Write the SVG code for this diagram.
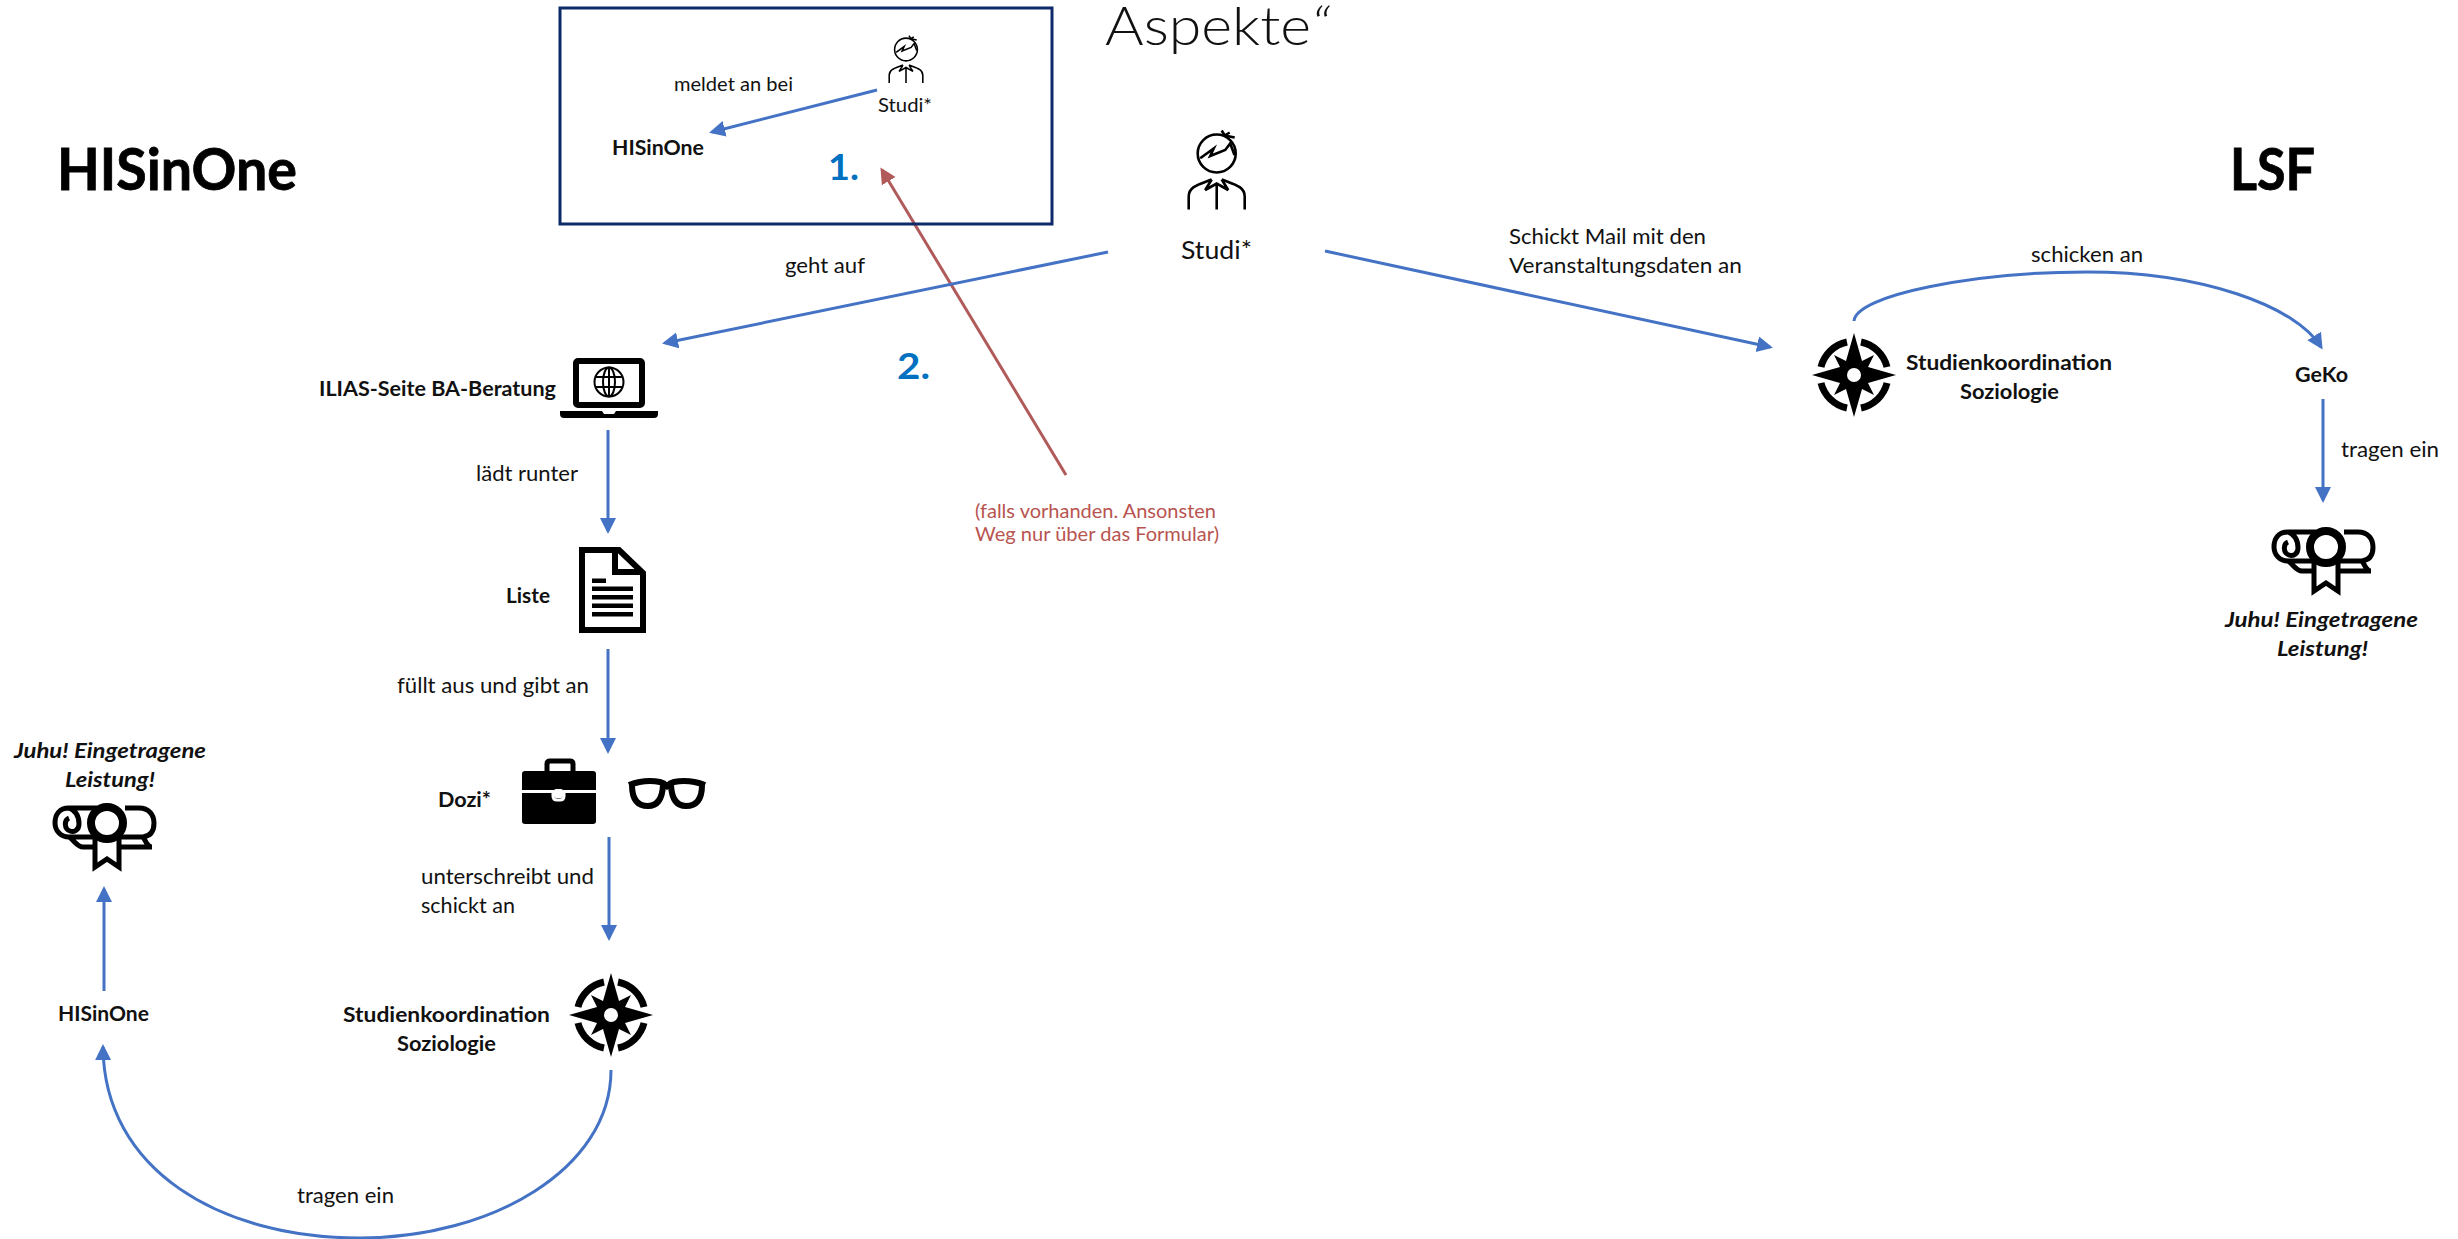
<svg xmlns="http://www.w3.org/2000/svg" xmlns:xlink="http://www.w3.org/1999/xlink" width="2458" height="1239" viewBox="0 0 2458 1239">
<style>
text{font-family:Lato,"Liberation Sans",sans-serif;fill:#111;font-size:21px}
.b{font-weight:700}
.i{font-weight:700;font-style:italic}
.h{font-weight:700;font-size:57px;fill:#000;stroke:#000;stroke-width:.8}
.n{font-weight:700;font-size:37px;fill:#0070c0}
.r{fill:#b85450;font-size:19px}
.c{fill:none;stroke:#4472c4;stroke-width:3}
.cr{fill:none;stroke:#b05a5a;stroke-width:3}
.ps{fill:none;stroke:#000;stroke-width:2.600}
</style>
<defs>
<marker id="ab" markerUnits="userSpaceOnUse" markerWidth="18" markerHeight="18" refX="13" refY="8" orient="auto"><path d="M0,0L16,8L0,16Z" fill="#4472c4"/></marker>
<marker id="ar" markerUnits="userSpaceOnUse" markerWidth="18" markerHeight="18" refX="13" refY="8" orient="auto"><path d="M0,0L16,8L0,16Z" fill="#b05a5a"/></marker>
<g id="person">
<circle class="ps" r="19"/>
<path class="ps" d="M-16.500,4.800L-3,-5L-6.500,2.500L8.500,-3.500L13.500,-10L17.800,1.500M5,-23L8,-18L18,-16M8,-18L13,-21"/>
<path class="ps" d="M-28,56V43C-28,33-18,31-5,26M28,56V43C28,33,18,31,5,26M-5,26L-11.500,36.500L0,30L11.500,36.500L5,26M0,30V56"/>
</g>
<g id="compass">
<path d="M0,-42L8,-14L20,-20L14,-8L42,0L14,8L20,20L8,14L0,42L-8,14L-20,20L-14,8L-42,0L-14,-8L-20,-20L-8,-14Z" fill="#000"/>
<circle r="7" fill="#fff"/>
<path d="M7,-33A34,34,0,0,1,33,-8M33,8A34,34,0,0,1,7,33M-7,33A34,34,0,0,1,-33,8M-33,-8A34,34,0,0,1,-7,-33" fill="none" stroke="#000" stroke-width="7"/>
</g>
<g id="diploma">
<path d="M-10,-15H-38C-48,-15-52,-8-52,0C-52,8-46,14-38,14H-14M14,14H36M18,-15H32C42,-15,47,-8,47,0C47,8,44,13,36,14C39,18,40,24,45,24M14,24H45M-38,14C-32,18-30,24-24,24H-14M-38,-15C-30,-12-28,-5-28,1C-28,6-32,10-37,8C-43,6-43,-3-38,-5" fill="none" stroke="#000" stroke-width="5"/>
<path d="M-12,14V44L0,36L12,44V14" fill="#fff" stroke="#000" stroke-width="5"/>
<circle r="16" fill="#fff" stroke="#000" stroke-width="8"/>
</g>
</defs>
<rect width="2458" height="1239" fill="#fff"/>

<g id="connectors">
<path class="c" marker-end="url(#ab)" d="M877,90L712,132"/>
<path class="cr" marker-end="url(#ar)" d="M1066,475L882,170"/>
<path class="c" marker-end="url(#ab)" d="M1108,252L665,343"/>
<path class="c" marker-end="url(#ab)" d="M1325,251L1770,347"/>
<path class="c" marker-end="url(#ab)" d="M1854,321C1856,295,1975,272,2087,272C2200,272,2295,305,2321,347"/>
<path class="c" marker-end="url(#ab)" d="M608,430V531"/>
<path class="c" marker-end="url(#ab)" d="M608,649V751"/>
<path class="c" marker-end="url(#ab)" d="M609,837V938"/>
<path class="c" marker-end="url(#ab)" d="M611,1070C611,1170,490,1238,360,1238C220,1238,104,1170,103,1047"/>
<path class="c" marker-end="url(#ab)" d="M104,991V889"/>
<path class="c" marker-end="url(#ab)" d="M2323,399V500"/>
</g>

<g id="title"><text x="1105" y="45" style="font-size:53px;font-weight:300" textLength="225" lengthAdjust="spacingAndGlyphs">Aspekte<tspan font-style="italic">“</tspan></text></g>
<g id="heading-hisinone"><text class="h" x="57" y="190" textLength="240" lengthAdjust="spacingAndGlyphs">HISinOne</text></g>
<g id="heading-lsf"><text class="h" x="2230" y="190" textLength="85" lengthAdjust="spacingAndGlyphs">LSF</text></g>

<g id="inset">
<rect x="560" y="8" width="492" height="216" fill="#fff" fill-opacity="0" stroke="#0f2a6b" stroke-width="3"/>
<use xlink:href="#person" href="#person" transform="translate(906,49.500) scale(.6)"/>
<text x="878" y="112" style="font-size:19px" textLength="54" lengthAdjust="spacingAndGlyphs">Studi*</text>
<text x="674" y="91" style="font-size:19px" textLength="119" lengthAdjust="spacingAndGlyphs">meldet an bei</text>
<text class="b" x="612" y="155" textLength="92" lengthAdjust="spacingAndGlyphs">HISinOne</text>
<text class="n" x="828" y="180" textLength="31" lengthAdjust="spacingAndGlyphs">1.</text>
</g>
<g id="label-2"><text class="n" x="897" y="379" textLength="33" lengthAdjust="spacingAndGlyphs">2.</text></g>
<g id="note">
<text class="r" x="975" y="518" textLength="241" lengthAdjust="spacingAndGlyphs">(falls vorhanden. Ansonsten</text>
<text class="r" x="975" y="541" textLength="244" lengthAdjust="spacingAndGlyphs">Weg nur über das Formular)</text>
</g>

<g id="studi">
<use xlink:href="#person" href="#person" transform="translate(1216.700,153.500)"/>
<text x="1181" y="259" style="font-size:25px" textLength="71" lengthAdjust="spacingAndGlyphs">Studi*</text>
</g>
<g id="edge-labels">
<text x="785" y="273" textLength="80" lengthAdjust="spacingAndGlyphs">geht auf</text>
<text x="1509" y="244" textLength="197" lengthAdjust="spacingAndGlyphs">Schickt Mail mit den</text>
<text x="1509" y="273" textLength="233" lengthAdjust="spacingAndGlyphs">Veranstaltungsdaten an</text>
<text x="2031" y="262" textLength="112" lengthAdjust="spacingAndGlyphs">schicken an</text>
<text x="2341" y="457" textLength="98" lengthAdjust="spacingAndGlyphs">tragen ein</text>
<text x="476" y="481" textLength="102" lengthAdjust="spacingAndGlyphs">lädt runter</text>
<text x="397" y="693" textLength="192" lengthAdjust="spacingAndGlyphs">füllt aus und gibt an</text>
<text x="421" y="884" textLength="173" lengthAdjust="spacingAndGlyphs">unterschreibt und</text>
<text x="421" y="913" textLength="94" lengthAdjust="spacingAndGlyphs">schickt an</text>
<text x="297" y="1203" textLength="97" lengthAdjust="spacingAndGlyphs">tragen ein</text>
</g>

<g id="ilias">
<text class="b" x="319" y="396" textLength="237" lengthAdjust="spacingAndGlyphs">ILIAS-Seite BA-Beratung</text>
<rect x="576" y="361" width="66" height="44" rx="2" fill="none" stroke="#000" stroke-width="6"/>
<path d="M560,411H602L604,414H614L616,411H658V414Q658,418,654,418H564Q560,418,560,414Z" fill="#000"/>
<g fill="none" stroke="#000" stroke-width="2"><circle cx="609" cy="382" r="14.500"/><ellipse cx="609" cy="382" rx="6" ry="14.500"/><path d="M595,377H623M595,387H623M609,368V396"/></g>
</g>
<g id="liste">
<text class="b" x="506" y="603" textLength="44" lengthAdjust="spacingAndGlyphs">Liste</text>
<path d="M582,550H619L643,573V630H582Z" fill="#fff" stroke="#000" stroke-width="6"/>
<path d="M615,550V572H641" fill="none" stroke="#000" stroke-width="6"/>
<path d="M592,578.500H606V583H592ZM592,586.500H633V591H592ZM592,595H633V599.500H592ZM592,603.500H633V608H592ZM592,612H633V616.500H592Z" fill="#000"/>
</g>
<g id="dozi">
<text class="b" x="438" y="807" textLength="53" lengthAdjust="spacingAndGlyphs">Dozi*</text>
<path d="M547,772V764Q547,761,550,761H570Q573,761,573,764V772" fill="none" stroke="#000" stroke-width="5"/>
<rect x="522" y="771" width="74" height="53" rx="3" fill="#000"/>
<path d="M522,791.500H553V796Q553,800,557,800H560Q564,800,564,796V791.500H596" fill="none" stroke="#fff" stroke-width="3"/>
<rect x="554" y="789" width="9" height="9" rx="2" fill="#fff"/>
<path d="M629,785Q645,779,660,782Q664,783,667,786Q670,783,674,782Q689,779,705,785M632,785Q632,806,648,806Q662,806,663,785M671,785Q672,806,686,806Q702,806,702,785" fill="none" stroke="#000" stroke-width="6"/>
</g>
<g id="studienkoordination-left">
<use xlink:href="#compass" href="#compass" transform="translate(611,1015)"/>
<text class="b" x="343" y="1022" textLength="207" lengthAdjust="spacingAndGlyphs">Studienkoordination</text>
<text class="b" x="397" y="1051" textLength="99" lengthAdjust="spacingAndGlyphs">Soziologie</text>
</g>
<g id="hisinone"><text class="b" x="58" y="1021" textLength="91" lengthAdjust="spacingAndGlyphs">HISinOne</text></g>
<g id="leistung-left">
<text class="i" x="14" y="758" textLength="192" lengthAdjust="spacingAndGlyphs">Juhu! Eingetragene</text>
<text class="i" x="65" y="787" textLength="90" lengthAdjust="spacingAndGlyphs">Leistung!</text>
<use xlink:href="#diploma" href="#diploma" transform="translate(107,823)"/>
</g>
<g id="studienkoordination-right">
<use xlink:href="#compass" href="#compass" transform="translate(1854,375)"/>
<text class="b" x="1906" y="370" textLength="206" lengthAdjust="spacingAndGlyphs">Studienkoordination</text>
<text class="b" x="1960" y="399" textLength="99" lengthAdjust="spacingAndGlyphs">Soziologie</text>
</g>
<g id="geko"><text class="b" x="2295" y="382" textLength="53" lengthAdjust="spacingAndGlyphs">GeKo</text></g>
<g id="leistung-right">
<use xlink:href="#diploma" href="#diploma" transform="translate(2326,547)"/>
<text class="i" x="2225" y="627" textLength="193" lengthAdjust="spacingAndGlyphs">Juhu! Eingetragene</text>
<text class="i" x="2277" y="656" textLength="91" lengthAdjust="spacingAndGlyphs">Leistung!</text>
</g>
</svg>
